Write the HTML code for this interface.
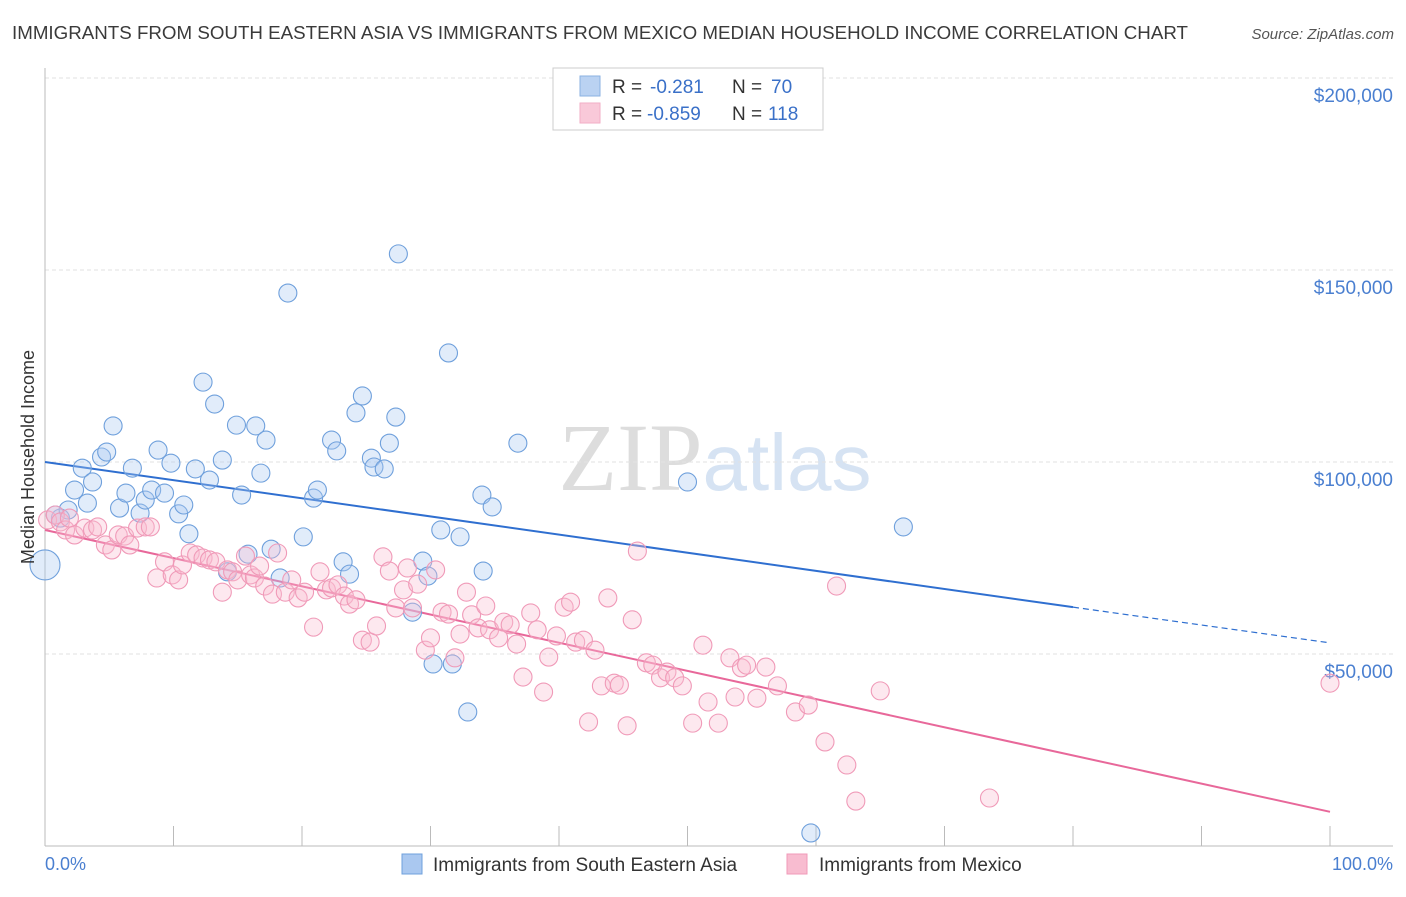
<!DOCTYPE html>
<html><head><meta charset="utf-8"><style>
body{margin:0;background:#fff;font-family:"Liberation Sans",sans-serif}
</style></head><body>
<svg id="chart" width="1406" height="892" xmlns="http://www.w3.org/2000/svg" font-family="Liberation Sans, sans-serif">
<text x="12" y="39" font-size="18" fill="#3a3a3a" textLength="1176" lengthAdjust="spacingAndGlyphs">IMMIGRANTS FROM SOUTH EASTERN ASIA VS IMMIGRANTS FROM MEXICO MEDIAN HOUSEHOLD INCOME CORRELATION CHART</text>
<text x="1394" y="39" font-size="15" fill="#555" text-anchor="end" font-style="italic">Source: ZipAtlas.com</text>
<text x="715" y="490" font-size="96" text-anchor="middle" fill="#d8d8d8" opacity="0.7"><tspan font-family="Liberation Serif, serif" fill="#cfcfcf">ZIP</tspan><tspan fill="#c5d8ee" font-size="80">atlas</tspan></text>
<g id="grid"></g>
<g id="axes"></g>
<g id="lines"></g>
<g id="points"></g>
<text transform="translate(34,457) rotate(-90)" font-size="18" fill="#333" text-anchor="middle">Median Household Income</text>
<text x="45" y="870" font-size="18" fill="#4a7fd0">0.0%</text>
<text x="1393" y="870" font-size="18" fill="#4a7fd0" text-anchor="end">100.0%</text>
<g>
<rect x="553" y="68" width="270" height="62" fill="#fff" stroke="#ccc"/>
<rect x="580" y="76" width="20" height="20" fill="#aac8f0" stroke="#6fa0dc" opacity="0.8"/>
<rect x="580" y="103" width="20" height="20" fill="#f8bcd0" stroke="#f09ab8" opacity="0.8"/>
<text x="612" y="93" font-size="19" fill="#333">R =</text>
<text x="650" y="93" font-size="19" fill="#3a70c8">-0.281</text>
<text x="732" y="93" font-size="19" fill="#333">N =</text>
<text x="771" y="93" font-size="19" fill="#3a70c8">70</text>
<text x="612" y="120" font-size="19" fill="#333">R =</text>
<text x="647" y="120" font-size="19" fill="#3a70c8">-0.859</text>
<text x="732" y="120" font-size="19" fill="#333">N =</text>
<text x="768" y="120" font-size="19" fill="#3a70c8">118</text>
</g>
<g>
<rect x="402" y="854" width="20" height="20" fill="#aac8f0" stroke="#6fa0dc"/>
<text x="433" y="871" font-size="19" fill="#333">Immigrants from South Eastern Asia</text>
<rect x="787" y="854" width="20" height="20" fill="#f8bcd0" stroke="#f09ab8"/>
<text x="819" y="871" font-size="19" fill="#333">Immigrants from Mexico</text>
</g>
</svg>
<script>
const yTicks=[50,100,150,200];
const yTickLabels=["$50,000","$100,000","$150,000","$200,000"];
const xTicks=[0,10,20,30,40,50,60,70,80,90,100];
const blueX=[0,1.2,1.8,3.3,2.3,2.9,3.7,4.4,5.3,4.8,5.8,6.3,6.8,7.4,7.8,8.3,8.8,9.3,9.8,10.4,10.8,11.2,11.7,12.3,12.8,13.2,13.8,14.2,14.9,15.3,15.8,16.4,16.8,17.2,17.6,18.3,18.9,20.1,20.9,21.2,22.3,22.7,23.2,23.7,24.2,24.7,25.4,25.6,26.4,26.8,27.3,27.5,28.6,29.4,29.8,30.2,30.8,31.4,31.7,32.3,32.9,34.0,34.1,34.8,36.8,50.0,59.6,66.8,0.8];
const blueY=[73.2,85.4,87.5,89.3,92.7,98.4,94.8,101.3,109.4,102.6,88.0,91.9,98.4,86.7,90.1,92.7,103.1,91.9,99.7,86.5,88.8,81.3,98.2,120.8,95.3,115.1,100.5,71.4,109.6,91.4,76.0,109.4,97.1,105.7,77.3,69.8,144.0,80.5,90.6,92.7,105.7,102.9,74.0,70.8,112.8,117.2,101.0,98.7,98.2,104.9,111.7,154.2,60.9,74.2,70.3,47.4,82.3,128.4,47.4,80.5,34.9,91.4,71.6,88.3,104.9,94.8,3.4,83.1,86.2];
const pinkX=[0.2,0.8,1.2,1.6,1.9,2.3,3.1,3.7,4.1,4.7,5.2,5.7,6.2,6.6,7.2,7.8,8.2,8.7,9.3,9.9,10.4,10.7,11.3,11.8,12.3,12.8,13.3,13.8,14.2,14.6,15.0,15.6,16.0,16.3,16.7,17.1,17.7,18.1,18.7,19.2,19.7,20.2,20.9,21.4,21.9,22.3,22.8,23.3,23.7,24.2,24.7,25.3,25.8,26.3,26.8,27.3,27.9,28.2,28.6,29.0,29.6,30.0,30.4,30.9,31.4,31.9,32.3,32.8,33.2,33.7,34.3,34.6,35.3,35.7,36.2,36.7,37.2,37.8,38.3,38.8,39.2,39.8,40.4,40.9,41.3,41.9,42.3,42.8,43.3,43.8,44.3,44.7,45.3,45.7,46.1,46.8,47.3,47.9,48.4,49.0,49.6,50.4,51.2,51.6,52.4,53.3,53.7,54.2,54.6,55.4,56.1,57.0,58.4,59.4,60.7,61.6,62.4,63.1,65.0,73.5,100];
const pinkY=[84.9,86.2,84.4,82.3,85.4,81.0,82.8,82.3,83.1,78.4,77.1,81.0,80.7,78.4,82.8,83.1,83.1,69.8,74.0,70.6,69.3,73.2,76.3,75.8,75.0,74.5,74.0,66.1,71.9,71.4,69.3,75.5,70.6,69.8,72.9,67.7,65.6,76.3,66.1,69.3,64.6,66.1,57.0,71.4,66.7,67.2,68.0,65.1,63.0,64.1,53.6,53.1,57.3,75.3,71.6,62.0,66.7,72.4,62.0,68.2,51.0,54.2,71.9,60.9,60.4,49.0,55.2,66.1,60.2,56.8,62.5,56.3,54.2,58.3,57.6,52.6,44.0,60.7,56.3,40.1,49.2,54.7,62.2,63.5,53.1,53.6,32.3,51.0,41.7,64.6,42.4,41.9,31.3,58.9,76.8,47.7,47.1,43.8,45.3,43.8,41.7,32.0,52.3,37.5,32.0,49.0,38.8,46.4,47.1,38.5,46.6,41.7,34.9,36.7,27.1,67.7,21.1,11.7,40.4,12.5,42.4];
const blueTrendX=[0,80,100];
const blueTrendY=[100,62.2,52.9];
const pinkTrendX=[0,100];
const pinkTrendY=[82.3,8.9];
const NS="http://www.w3.org/2000/svg";
function sx(v){return 45+v*12.85;}
function sy(v){return 846-v*3.84;}
function mk(tag,attrs,parent){const e=document.createElementNS(NS,tag);for(const k in attrs)e.setAttribute(k,attrs[k]);document.getElementById(parent).appendChild(e);return e;}
yTicks.forEach((t,i)=>{
  const l=mk('line',{x1:45,x2:1393,y1:sy(t),y2:sy(t),stroke:'#e2e2e2','stroke-dasharray':'4,3'},'grid');
  
  
  const tx=mk('text',{x:1393,y:sy(t)+24,'font-size':19,fill:'#4a7fd0','text-anchor':'end'},'grid');
  tx.textContent=yTickLabels[i];
  
  
});
const ax=mk('line',{x1:45,x2:45,y1:68,y2:846,stroke:'#bbb'},'axes');


const bx=mk('line',{x1:45,x2:1393,y1:846,y2:846,stroke:'#bbb'},'axes');


xTicks.forEach(t=>{
  const l=mk('line',{x1:sx(t),x2:sx(t),y1:826,y2:846,stroke:'#bbb'},'axes');
  
  
});
function drawPts(xs,ys,fill,stroke,name){
  xs.forEach((x,i)=>{
    const c=mk('circle',{cx:sx(x),cy:sy(ys[i]),r:(i===0&&name==='blue-point')?15:9,fill:fill,'fill-opacity':0.35,stroke:stroke,'stroke-width':1.1},'points');
    
    
  });
}
drawPts(blueX,blueY,'#aac8f0','#6fa0dc','blue-point');
drawPts(pinkX,pinkY,'#f8bcd0','#f09ab8','pink-point');
const b1=mk('line',{x1:sx(blueTrendX[0]),y1:sy(blueTrendY[0]),x2:sx(blueTrendX[1]),y2:sy(blueTrendY[1]),stroke:'#2f6fd0','stroke-width':2},'lines');


const b2=mk('line',{x1:sx(blueTrendX[1]),y1:sy(blueTrendY[1]),x2:sx(blueTrendX[2]),y2:sy(blueTrendY[2]),stroke:'#2f6fd0','stroke-width':1.2,'stroke-dasharray':'6,4'},'lines');


const p1=mk('line',{x1:sx(pinkTrendX[0]),y1:sy(pinkTrendY[0]),x2:sx(pinkTrendX[1]),y2:sy(pinkTrendY[1]),stroke:'#e8689a','stroke-width':2},'lines');


</script>
</body></html>
